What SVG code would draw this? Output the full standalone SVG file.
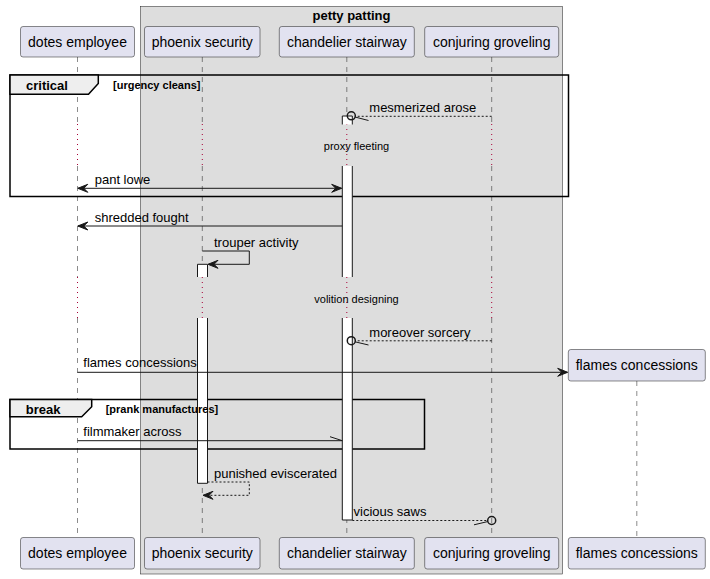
<svg xmlns="http://www.w3.org/2000/svg" width="710" height="579" viewBox="0 0 710 579">
<defs>
<style>
.head{fill:#E2E2F0;stroke:#181818;stroke-width:0.5}
.hname{font-family:"Liberation Sans",Arial,sans-serif;font-size:14px;fill:#000;text-anchor:middle}
.life{stroke:#181818;stroke-width:0.5;stroke-dasharray:5,5;fill:none}
.delay{stroke:#A80036;stroke-width:1;stroke-dasharray:1,4;fill:none}
.frame{fill:none;stroke:#000;stroke-width:1.5}
.tab{fill:#EEEEEE;stroke:#000;stroke-width:1.5}
.flabel{font-family:"Liberation Sans",Arial,sans-serif;font-size:13px;font-weight:bold;fill:#000}
.guard{font-family:"Liberation Sans",Arial,sans-serif;font-size:11px;font-weight:bold;fill:#000}
.msg{font-family:"Liberation Sans",Arial,sans-serif;font-size:13px;fill:#000}
.dtext{font-family:"Liberation Sans",Arial,sans-serif;font-size:11px;fill:#000;text-anchor:middle}
.act{fill:#FFFFFF;stroke:none}
.aline{stroke:#181818;stroke-width:1;fill:none}
.solid{stroke:#181818;stroke-width:1;fill:none}
.dash{stroke:#181818;stroke-width:1;fill:none;stroke-dasharray:2,2}
.ah{fill:#181818;stroke:#181818;stroke-width:1}
.circ{fill:none;stroke:#181818;stroke-width:1.5}
</style>
</defs>
<rect width="710" height="579" fill="#FFFFFF"/>
<g id="box-petty-patting">
<rect x="140.5" y="6.5" width="422" height="567.5" fill="#DDDDDD" stroke="#181818" stroke-width="0.5"/>
<text x="351.5" y="19.5" class="flabel" text-anchor="middle">petty patting</text>
</g>
<g id="lifelines">
<path class="life" d="M77.5,57 V124 M77.5,166 V277 M77.5,318 V537.5"/>
<path class="life" d="M202.3,57 V124 M202.3,166 V277 M202.3,318 V537.5"/>
<path class="life" d="M346.8,57 V124 M346.8,166 V277 M346.8,318 V537.5"/>
<path class="life" d="M491.7,57 V124 M491.7,166 V277 M491.7,318 V537.5"/>
<path class="life" d="M636.8,381 V537.5"/>
<path class="delay" d="M77.5,124 V166 M202.3,124 V166 M346.8,124 V166 M491.7,124 V166"/>
<path class="delay" d="M77.5,277 V318 M202.3,277 V318 M346.8,277 V318 M491.7,277 V318"/>
</g>
<g id="node-dotes-employee">
<rect class="head" x="20.5" y="26.5" width="114" height="30.5" rx="2.5"/>
<text class="hname" x="77.5" y="47">dotes employee</text>
<rect class="head" x="20.5" y="537.5" width="114" height="31.5" rx="2.5"/>
<text class="hname" x="77.5" y="558">dotes employee</text>
</g>
<g id="node-phoenix-security">
<rect class="head" x="144.5" y="26.5" width="115.5" height="30.5" rx="2.5"/>
<text class="hname" x="202.3" y="47">phoenix security</text>
<rect class="head" x="144.5" y="537.5" width="115.5" height="31.5" rx="2.5"/>
<text class="hname" x="202.3" y="558">phoenix security</text>
</g>
<g id="node-chandelier-stairway">
<rect class="head" x="279.3" y="26.5" width="135" height="30.5" rx="2.5"/>
<text class="hname" x="346.8" y="47">chandelier stairway</text>
<rect class="head" x="279.3" y="537.5" width="135" height="31.5" rx="2.5"/>
<text class="hname" x="346.8" y="558">chandelier stairway</text>
</g>
<g id="node-conjuring-groveling">
<rect class="head" x="424.7" y="26.5" width="134" height="30.5" rx="2.5"/>
<text class="hname" x="491.7" y="47">conjuring groveling</text>
<rect class="head" x="424.7" y="537.5" width="134" height="31.5" rx="2.5"/>
<text class="hname" x="491.7" y="558">conjuring groveling</text>
</g>
<g id="node-flames-concessions">
<rect class="head" x="568.3" y="349.5" width="137" height="31.5" rx="2.5"/>
<text class="hname" x="636.8" y="370">flames concessions</text>
<rect class="head" x="568.3" y="537.5" width="137" height="31.5" rx="2.5"/>
<text class="hname" x="636.8" y="558">flames concessions</text>
</g>
<g id="frame-critical">
<rect class="frame" x="10" y="75" width="558.5" height="121.5"/>
<path class="tab" d="M10,75 H98.3 V83.5 L88.5,94.3 H10 Z"/>
<text class="flabel" x="26" y="90">critical</text>
</g>
<g id="frame-break">
<rect class="frame" x="10" y="399.5" width="414.5" height="49.5"/>
<path class="tab" d="M10,399.5 H91.7 V406.7 L81.7,416.7 H10 Z"/>
<text class="flabel" x="25.7" y="413.5">break</text>
</g>
<g id="activations">
<rect class="act" x="342.3" y="116" width="10" height="8.5"/>
<rect class="act" x="342.3" y="166" width="10" height="111"/>
<rect class="act" x="342.3" y="318" width="10" height="202"/>
<path class="aline" d="M342.3,116 H352.3 M342.3,116 V124.5 M352.3,116 V124.5 M342.3,166 V277 M352.3,166 V277 M342.3,318 V520 M352.3,318 V520 M342.3,520 H352.3"/>
<rect class="act" x="197.5" y="264.3" width="10" height="12.7"/>
<rect class="act" x="197.5" y="318" width="10" height="165.3"/>
<path class="aline" d="M197.5,264.3 H207.5 M197.5,264.3 V277 M207.5,264.3 V277 M197.5,318 V483.3 M207.5,318 V483.3 M197.5,483.3 H207.5"/>
</g>
<g id="frame-guards">
<text class="guard" x="113" y="89">[urgency cleans]</text>
<text class="guard" x="105.7" y="412.5">[prank manufactures]</text>
</g>
<g id="delays">
<text class="dtext" x="356.5" y="150">proxy fleeting</text>
<text class="dtext" x="356.5" y="303">volition designing</text>
</g>
<g id="connectors">
<line class="dash" x1="491.7" y1="116.3" x2="355.3" y2="116.3"/>
<circle class="circ" cx="351.3" cy="115.8" r="4"/>
<line class="solid" x1="355" y1="117" x2="368.5" y2="120.5"/>
<text class="msg" x="369.3" y="112">mesmerized arose</text>
<line class="solid" x1="78" y1="188.3" x2="341.5" y2="188.3"/>
<polygon class="ah" points="77.8,188.3 87.8,184.3 83.8,188.3 87.8,192.3"/>
<polygon class="ah" points="341.7,188.3 331.7,184.3 335.7,188.3 331.7,192.3"/>
<text class="msg" x="94.7" y="184">pant lowe</text>
<line class="solid" x1="342.3" y1="226" x2="78" y2="226"/>
<polygon class="ah" points="77.8,226 87.8,222 83.8,226 87.8,230"/>
<text class="msg" x="94.7" y="221.5">shredded fought</text>
<polyline class="solid" points="202.3,251 249.3,251 249.3,264.3 208.3,264.3"/>
<polygon class="ah" points="208,264.3 218,260.3 214,264.3 218,268.3"/>
<text class="msg" x="214" y="247">trouper activity</text>
<line class="dash" x1="491.7" y1="340.8" x2="355.3" y2="340.8"/>
<circle class="circ" cx="351.3" cy="340.7" r="4"/>
<line class="solid" x1="355" y1="341.8" x2="368.5" y2="345"/>
<text class="msg" x="369.3" y="337">moreover sorcery</text>
<line class="solid" x1="77.5" y1="372.3" x2="567" y2="372.3"/>
<polygon class="ah" points="567.7,372.3 557.7,368.3 561.7,372.3 557.7,376.3"/>
<text class="msg" x="83.3" y="367">flames concessions</text>
<line class="solid" x1="77.5" y1="440.7" x2="342.3" y2="440.7"/>
<line class="solid" x1="342.3" y1="440.7" x2="330" y2="436.7"/>
<text class="msg" x="83.3" y="435.5">filmmaker across</text>
<polyline class="dash" points="207.5,482 249.3,482 249.3,495.3 203.5,495.3"/>
<polygon class="ah" points="203,495.3 213,491.3 209,495.3 213,499.3"/>
<text class="msg" x="214" y="478">punished eviscerated</text>
<line class="dash" x1="352.3" y1="520.5" x2="487.7" y2="520.5"/>
<circle class="circ" cx="491.7" cy="520.5" r="4"/>
<line class="solid" x1="488" y1="521.5" x2="474" y2="524.8"/>
<text class="msg" x="353.5" y="516">vicious saws</text>
</g>
</svg>
